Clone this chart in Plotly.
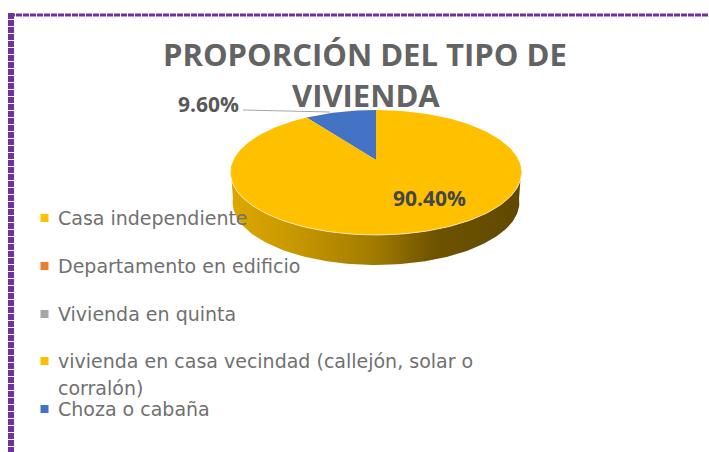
import math
import plotly.graph_objects as go

# ---- data ----
categories = ["Casa independiente", "Departamento en edificio", "Vivienda en quinta",
              "vivienda en casa vecindad (callejón, solar o<br>corralón)", "Choza o cabaña"]
values = [90.4, 0, 0, 0, 9.6]
colors = ["#FFC000", "#ED7D31", "#A5A5A5", "#FFC000", "#4472C4"]
title_text = "PROPORCIÓN DEL TIPO DE<br>VIVIENDA"

# ---- 3D pie projection (pixel space) ----
X0, Y0 = 376, 160
B, A, K = 142.6, 60, 0.2
DEPTH = 30


def project(theta, scale=1.0, dy=0.0):
    sx, sy = math.sin(theta), math.cos(theta)
    d = 1 + K * sy
    return X0 + scale * B * sx / d, Y0 - A * sy / d + dy


def arc(a0, a1, n=120, **kw):
    pts = [project(a0 + (a1 - a0) * i / n, **kw) for i in range(n + 1)]
    return [p[0] for p in pts], [p[1] for p in pts]


fig = go.Figure()

# side wall: front half of the rim plus the lower rim
tx, ty = arc(math.radians(262), math.radians(98))
bx, by = arc(math.radians(98), math.radians(262), scale=0.985, dy=DEPTH)
fig.add_trace(go.Scatter(
    x=tx + bx, y=ty + by, mode="lines", line=dict(width=0), fill="toself",
    fillgradient=dict(type="horizontal", colorscale=[
        [0, "#DDA800"], [0.25, "#C49500"], [0.5, "#A07A00"], [0.7, "#6E5300"], [1, "#5F4800"]]),
    hoverinfo="skip", showlegend=False))

# top faces
total = sum(values)
end = 2 * math.pi
for name, v, c in reversed(list(zip(categories, values, colors))):
    if v <= 0:
        continue
    start = end - 2 * math.pi * v / total
    x, y = arc(start, end, n=max(20, int(240 * v / total)))
    fig.add_trace(go.Scatter(
        x=[X0] + x + [X0], y=[Y0] + y + [Y0], mode="lines", fill="toself",
        fillcolor=c, line=dict(width=0), name=name, hoverinfo="name", showlegend=False))
    end = start

# rim highlight
hx, hy = arc(math.radians(262), math.radians(98))
fig.add_trace(go.Scatter(x=hx, y=hy, mode="lines", line=dict(color="rgba(255,255,255,0.6)", width=1),
                         hoverinfo="skip", showlegend=False))

annotations = []


def text(x, y, s, size, bold=False, anchor="left", color="#707070", family="DejaVu Sans"):
    annotations.append(dict(x=x, y=y, xref="x", yref="y", text=f"<b>{s}</b>" if bold else s, showarrow=False,
                            xanchor=anchor, yanchor="middle", align=anchor, font=dict(family=family, size=size, color=color)))


# title
text(365, 54, title_text.split("<br>")[0], 31, True, "center", "#636363", "Open Sans")
text(366, 95, title_text.split("<br>")[1], 31, True, "center", "#636363", "Open Sans")

# data labels
text(208, 104, f"{values[4]:.2f}%", 21, True, "center", "#595959", "Open Sans")
text(429, 198, f"{values[0]:.2f}%", 21, True, "center", "#44464A", "Open Sans")

# legend
legend_y = [218, 266, 314, 361, 409]
mx, my, mc = [], [], []
for name, c, ly in zip(categories, colors, legend_y):
    mx.append(44.5); my.append(ly); mc.append(c)
    if "<br>" in name:
        a, b = name.split("<br>")
        text(56, ly, a, 19)
        text(56, ly + 27, b, 19)
    else:
        text(56, ly, name, 19)
fig.add_trace(go.Scatter(x=mx, y=my, mode="markers", marker=dict(symbol="square", size=8, color=mc, line=dict(width=0)),
                         hoverinfo="skip", showlegend=False))

shapes = [
    dict(type="line", xref="x", yref="y", x0=243, y0=110, x1=330, y1=112, line=dict(color="#A6A6A6", width=1), layer="above"),
    dict(type="line", xref="x", yref="y", x0=9, y0=15, x1=709, y1=15, line=dict(color="#7030A0", width=3, dash="6px,1px")),
    dict(type="line", xref="x", yref="y", x0=11, y0=13, x1=11, y1=452, line=dict(color="#7030A0", width=6, dash="6px,1px")),
]

fig.update_layout(
    width=709, height=452, margin=dict(l=0, r=0, t=0, b=0),
    paper_bgcolor="white", plot_bgcolor="white", showlegend=False,
    xaxis=dict(range=[0, 709], visible=False, fixedrange=True),
    yaxis=dict(range=[452, 0], visible=False, fixedrange=True),
    annotations=annotations, shapes=shapes,
)
fig.write_html("out.html", config={"displayModeBar": False},
               post_script="document.body.style.margin='0';document.body.style.overflow='hidden';")
